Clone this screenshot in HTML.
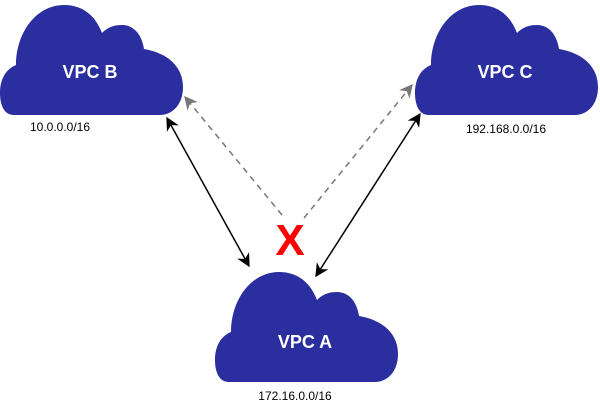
<!DOCTYPE html>
<html><head><meta charset="utf-8"><style>
body{margin:0;background:#fff;width:600px;height:403px;overflow:hidden}
svg{display:block}
</style></head><body>
<svg width="600" height="403" viewBox="0 0 600 403" xmlns="http://www.w3.org/2000/svg">
<defs>
<path id="cl" d="M 14 112 C 4 112 0 102 0 90 C 0 76 6 66 16 62 C 16 30 36 2 64 2 C 84 2 96 14 102 30 C 108 24 114 22 122 22 C 134 22 142 32 144 46 C 168 50 183 64 183 84 C 183 102 172 112 160 112 Z" fill="#2b2e9e"/>
<marker id="ab" viewBox="0 0 10 10" refX="9" refY="5" markerWidth="9" markerHeight="9" orient="auto-start-reverse"><path d="M0 0 L10 5 L0 10 L3 5 Z" fill="#000"/></marker>
<marker id="ag" viewBox="0 0 10 10" refX="9" refY="5" markerWidth="9" markerHeight="9" orient="auto-start-reverse"><path d="M0 0 L10 5 L0 10 L3 5 Z" fill="#777"/></marker>
</defs>
<use href="#cl" x="0" y="3"/>
<use href="#cl" x="415" y="3"/>
<use href="#cl" x="215" y="270"/>
<g font-family="Liberation Sans, sans-serif" font-weight="bold" fill="#fff" font-size="18" text-anchor="middle">
<text x="90" y="78">VPC B</text>
<text x="505" y="78">VPC C</text>
<text x="305" y="348">VPC A</text>
</g>
<g font-family="Liberation Sans, sans-serif" fill="#000" font-size="12" text-anchor="middle">
<text x="60" y="131">10.0.0.0/16</text>
<text x="506" y="133">192.168.0.0/16</text>
<text x="295" y="400">172.16.0.0/16</text>
</g>
<line x1="167" y1="118" x2="249" y2="266" stroke="#000" stroke-width="1.5" marker-start="url(#ab)" marker-end="url(#ab)"/>
<line x1="420" y1="114" x2="316" y2="276" stroke="#000" stroke-width="1.5" marker-start="url(#ab)" marker-end="url(#ab)"/>
<line x1="282" y1="215" x2="185" y2="97" stroke="#777" stroke-width="1.5" stroke-dasharray="6,5" marker-end="url(#ag)"/>
<line x1="304" y1="218" x2="412" y2="85" stroke="#777" stroke-width="1.5" stroke-dasharray="6,5" marker-end="url(#ag)"/>
<text x="290" y="255" font-family="Liberation Sans, sans-serif" font-weight="bold" font-size="44" fill="#f00" text-anchor="middle">X</text>
</svg>
</body></html>
